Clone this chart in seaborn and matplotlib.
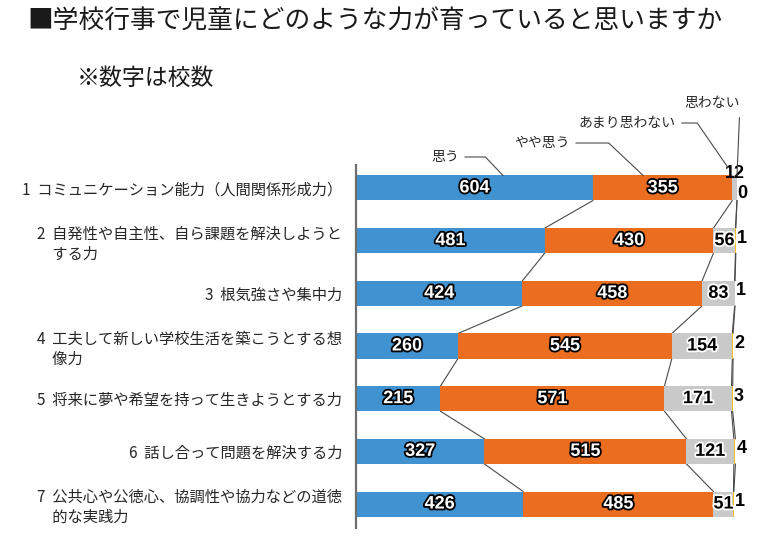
import matplotlib
matplotlib.use("Agg")
import matplotlib.pyplot as plt
from matplotlib import patheffects as pe
import numpy as np
import pandas as pd
import seaborn as sns

# ──────────────────────────────────────────────
# Data (number of schools)
# ──────────────────────────────────────────────
items = [
    "1  コミュニケーション能力（人間関係形成力）",
    "2  自発性や自主性、自ら課題を解決しようと\n\u3000する力",
    "3  根気強さや集中力",
    "4  工夫して新しい学校生活を築こうとする想\n\u3000像力",
    "5  将来に夢や希望を持って生きようとする力",
    "6  話し合って問題を解決する力",
    "7  公共心や公徳心、協調性や協力などの道徳\n\u3000的な実践力",
]
series = ["思う", "やや思う", "あまり思わない", "思わない"]
omou = [604, 481, 424, 260, 215, 327, 426]
yaya = [355, 430, 458, 545, 571, 515, 485]
amari = [12, 56, 83, 154, 171, 121, 51]
omowanai = [0, 1, 1, 2, 3, 4, 1]

colors = ["#4192D1", "#EB6D20", "#C9C9C9", "#F4C21A"]

# ──────────────────────────────────────────────
# Style
# ──────────────────────────────────────────────
sns.set_style("white")
plt.rcParams["font.family"] = ["Noto Sans CJK JP", "DejaVu Sans"]
NUM_FONT = ["Liberation Sans", "DejaVu Sans"]

df = pd.DataFrame({"item": items, series[0]: omou, series[1]: yaya,
                   series[2]: amari, series[3]: omowanai})
cum = df[series].cumsum(axis=1)

W, H = 780, 540
fig = plt.figure(figsize=(W / 100, H / 100), dpi=100)
ax = fig.add_axes([356 / W, 12 / H, 412 / W, 363 / H])

bar_h = 0.475
# stacked bars: draw cumulative totals from largest to smallest
for name, color in reversed(list(zip(series, colors))):
    sns.barplot(data=cum.assign(item=df["item"]), x=name, y="item",
                orient="h", color=color, saturation=1, width=bar_h,
                linewidth=0, ax=ax)

ax.set_xlim(0, 1050)
ax.set_ylim(6.455, -0.436)
ax.set_xlabel("")
ax.set_ylabel("")
ax.set_xticks([])
ax.tick_params(axis="y", length=0, pad=10, labelsize=11)
for t in ax.get_yticklabels():
    t.set_multialignment("left")
for s in ["top", "right", "bottom"]:
    ax.spines[s].set_visible(False)
ax.spines["left"].set_color("#6e6e6e")
ax.spines["left"].set_linewidth(1.6)

# series connector lines between consecutive bars
n = len(items)
for name in series:
    vals = cum[name].values
    for i in range(n - 1):
        ax.plot([vals[i], vals[i + 1]], [i + bar_h / 2, i + 1 - bar_h / 2],
                color="#4a4a4a", lw=0.8, zorder=0.5)

# value labels
white_txt = dict(color="white", fontsize=13, fontweight="bold", family=NUM_FONT,
                 ha="center", va="center",
                 path_effects=[pe.withStroke(linewidth=2.6, foreground="black")])
dark_txt = dict(color="black", fontsize=13, fontweight="bold", family=NUM_FONT,
                ha="center", va="center",
                path_effects=[pe.withStroke(linewidth=2.6, foreground="white")])
out_txt = dict(color="black", fontsize=13, fontweight="bold", family=NUM_FONT,
               va="center")
for i in range(n):
    starts = [0] + list(cum.iloc[i, :-1].values)
    vals = df.loc[i, series].values
    for k in range(2):
        ax.text(starts[k] + vals[k] / 2, i, f"{vals[k]}", **white_txt)
    if vals[2] >= 30:
        ax.text(starts[2] + vals[2] / 2, i, f"{vals[2]}", **dark_txt)
        ax.text(cum.iloc[i, 3] + 3, i - 0.05, f"{vals[3]}", ha="left", **out_txt)
    else:
        ax.text(starts[2] + vals[2] / 2, i - bar_h / 2 - 0.03, f"{vals[2]}",
                ha="center", **out_txt)
        ax.text(cum.iloc[i, 3] + 1, i + 0.1, f"{vals[3]}", ha="left", **out_txt)

# series name call-outs on the first bar
top0 = -bar_h / 2
arrow = dict(arrowstyle="-", color="#4a4a4a", lw=0.8, shrinkA=2, shrinkB=0,
             relpos=(1, 0.5))
ax.annotate(series[0], xy=(omou[0] * 0.62, top0), xycoords="data",
            xytext=(445, H - 157), textcoords="figure pixels",
            ha="center", va="center", fontsize=10,
            arrowprops=dict(arrow, connectionstyle="angle,angleA=0,angleB=-46.5,rad=0"))
ax.annotate(series[1], xy=(omou[0] + yaya[0] * 0.36, top0), xycoords="data",
            xytext=(542, H - 143), textcoords="figure pixels",
            ha="center", va="center", fontsize=10,
            arrowprops=dict(arrow, connectionstyle="angle,angleA=0,angleB=-43.3,rad=0"))
ax.annotate(series[2], xy=(cum.iloc[0, 1] - 11, top0 - 0.15), xycoords="data",
            xytext=(627, H - 123), textcoords="figure pixels",
            ha="center", va="center", fontsize=10,
            arrowprops=dict(arrow, connectionstyle="angle,angleA=0,angleB=-55.4,rad=0"))
ax.annotate(series[3], xy=(cum.iloc[0, 3], top0), xycoords="data",
            xytext=(712, H - 103), textcoords="figure pixels",
            ha="center", va="center", fontsize=10,
            arrowprops=dict(arrowstyle="-", color="#4a4a4a", lw=0.8,
                            shrinkA=3, shrinkB=0, relpos=(1.0, 0)))

# titles
fig.text(27 / W, 1 - 22 / H, "■学校行事で児童にどのような力が育っていると思いますか",
         fontsize=18.5, ha="left", va="center", color="#1a1a1a")
fig.text(77 / W, 1 - 78 / H, "※数字は校数", fontsize=16.5, ha="left", va="center",
         color="#1a1a1a")

fig.savefig("out.png", dpi=100)
